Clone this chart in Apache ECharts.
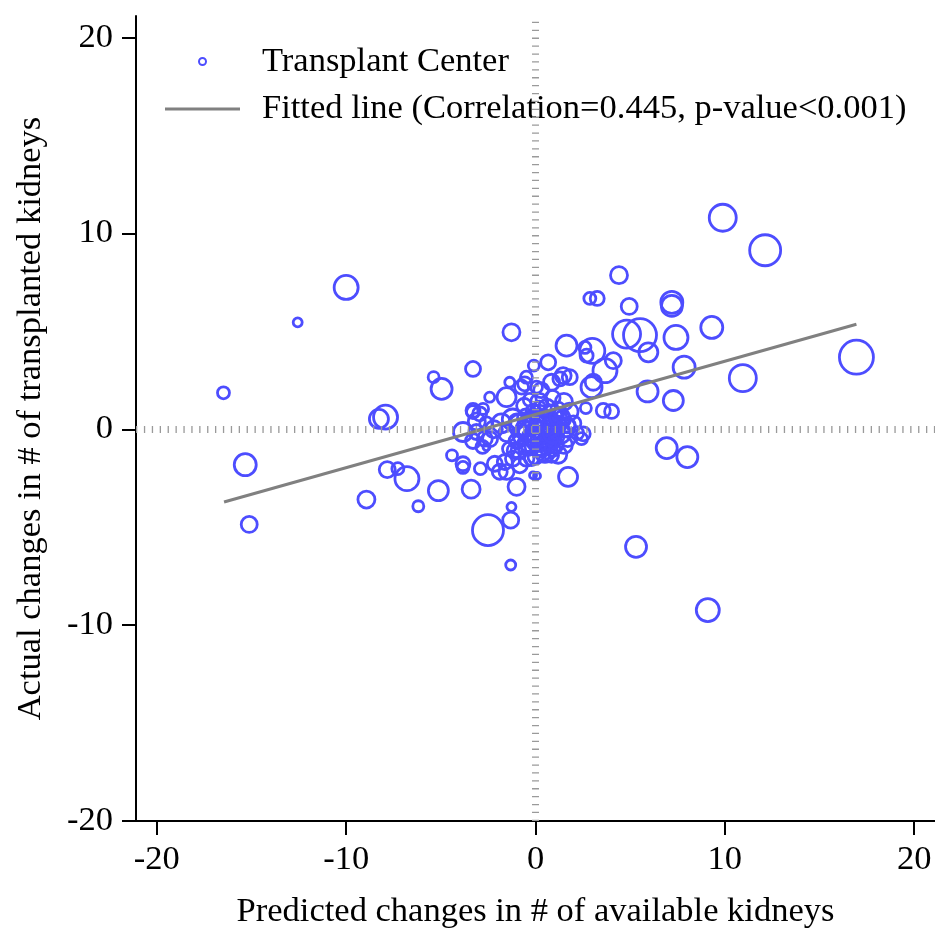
<!DOCTYPE html>
<html><head><meta charset="utf-8">
<script src="https://cdn.jsdelivr.net/npm/echarts@6/dist/echarts.min.js"></script>
<style>html,body{margin:0;padding:0;background:#fff}#c{width:935px;height:934px}</style>
</head><body><div id="c"></div>
<script>
// Transplant centers: predicted change (x), actual change (y), center weight (bubble)
const predicted = [
 -10.0,-12.56,-16.48,-15.33,-15.12,-8.27,-7.92,-5.38,-4.96,-3.30,
 -7.83,-7.27,-6.79,-8.93,-6.19,-5.13,-4.41,-3.83,-3.83,-3.40,
 -2.51,-3.83,-3.30,-2.91,-1.31,-1.27,-1.31,-1.00,-0.13,0.08,
 -2.15,-1.62,-1.53,-1.19,-0.83,-0.48,-1.89,-1.10,-3.12,-2.68,
 -2.59,-1.27,1.64,3.00,2.61,0.67,-0.09,4.95,4.81,5.52,
 5.96,4.11,3.67,3.05,2.96,1.81,1.46,3.58,4.02,2.66,
 -1.53,-2.42,-3.30,-2.77,-0.48,-1.36,-0.57,-0.74,0.05,0.85,
 1.29,1.72,2.52,2.43,4.41,2.87,3.26,7.20,7.20,9.31,
 7.42,7.85,16.95,5.92,7.28,2.70,6.93,8.02,5.31,9.10,
 0.85,-0.21,0.40,9.89,12.13,10.95,-2.95,
 -1.8,-1.5,-1.2,-1.0,-0.8,-0.7,-0.5,-0.4,-0.3,-0.2,
 -0.1,0.0,0.1,0.2,0.3,0.4,0.5,0.6,0.7,0.8,
 0.9,1.0,1.1,1.2,1.3,1.4,1.6,1.7,1.8,2.0,
 -0.6,0.2,-0.9,0.5,1.2,0.0,-0.3,0.9,-2.2,-1.4,
 2.2,1.5,0.3,-0.2,0.6,
 -3.3,-2.8,-2.4,-3.1,-2.6,
 0.1,0.4,0.7,1.0,0.2,0.6,0.9,1.3,-0.3,0.3,
 0.8,1.1,-0.6,0.0,0.5,1.5,-1.0,0.2,0.9,-0.4,
 1.7,1.2
];
const actual = [
 7.24,5.46,1.86,-1.81,-4.86,0.53,0.62,2.66,2.06,3.08,
 -2.06,-2.01,-2.52,-3.59,-3.93,-3.13,-1.33,-1.76,-1.95,-3.06,
 -5.15,-0.14,0.88,-2.01,-4.64,-3.96,-6.93,-2.94,-2.35,-2.38,
 -1.76,-1.67,-2.18,-1.50,-1.84,-1.50,-2.17,-1.08,-0.14,-0.48,
 -0.91,4.95,4.27,4.00,4.18,3.42,3.25,6.27,4.86,4.81,
 3.93,3.50,2.99,2.40,2.15,2.66,2.74,0.96,0.91,1.08,
 1.64,1.64,0.96,1.04,2.66,2.40,2.32,2.15,2.15,2.40,
 2.57,-2.43,-0.23,-0.48,7.87,6.68,6.68,6.48,6.30,5.20,
 4.69,3.17,3.68,1.93,1.47,3.76,-0.96,-1.42,-6.00,-9.23,
 -1.33,-1.50,-1.25,10.80,9.14,2.61,0.79,
 0.3,-0.2,0.5,-0.6,0.2,-0.3,0.6,-0.8,0.1,-0.4,
 0.9,0.3,-0.2,-0.9,0.5,0.0,-0.5,1.1,0.3,-0.3,
 0.7,-0.8,0.2,1.0,-0.2,0.5,0.1,-0.5,0.9,0.3,
 1.2,1.4,-1.1,-1.2,-1.3,-1.4,1.5,1.6,0.0,-1.0,
 -0.2,1.4,2.0,0.6,-0.1,
 -0.6,-0.9,-0.5,0.4,0.3,
 -0.6,-0.3,-0.7,-0.1,0.8,0.4,-1.0,0.6,-0.2,-1.0,
 0.1,-0.4,0.0,-0.5,0.2,-0.8,0.4,1.1,-0.2,-0.7,
 0.2,0.6
];
const weight = [
 25,10,13,23,17,20,25,12,22,16,
 17,13,25,18,12,21,12,15,13,19,
 32,20,14,13,17,10,11,18,8,8,
 16,16,16,16,16,16,16,16,16,16,
 8,18,22,26,13,16,12,17,29,34,
 20,17,25,17,22,16,17,15,15,12,
 20,11,15,12,13,11,15,15,13,17,
 15,20,15,13,18,13,15,23,22,23,
 25,23,35,22,21,14,22,22,22,24,
 15,15,15,28,32,28,15,
 20,18,22,16,24,20,18,22,26,20,
 16,22,24,18,20,26,22,18,24,20,
 22,18,20,16,22,18,20,16,18,16,
 16,18,16,20,18,16,14,16,18,14,
 14,18,16,12,14,
 16,14,16,18,14,
 22,18,20,16,18,22,16,20,24,18,
 20,16,18,20,22,18,16,14,20,18,
 16,18
];
// Fitted regression line endpoints
const fitPredicted = [-16.45, 16.95];
const fitActual = [-3.71, 5.36];
const tickValues = [-20, -10, 0, 10, 20];
const seriesNames = ['Transplant Center', 'Fitted line (Correlation=0.445, p-value<0.001)'];
const xAxisName = 'Predicted changes in # of available kidneys';
const yAxisName = 'Actual changes in # of transplanted kidneys';

const FONT = "'Liberation Serif','Times New Roman',serif";
const FS = 34.5;
const BLUE = '#4d4dff';
const GREY = '#808080';
const points = predicted.map((x, i) => [x, actual[i], weight[i]]);
const fitLine = fitPredicted.map((x, i) => [x, fitActual[i]]);

const axisCommon = {
  type: 'value',
  nameLocation: 'middle',
  nameTextStyle: { fontFamily: FONT, fontSize: FS, color: '#000' },
  axisLine: { show: true, onZero: false, lineStyle: { color: '#000', width: 2 } },
  axisTick: { show: true, length: 14, lineStyle: { color: '#000', width: 2 }, customValues: tickValues },
  axisLabel: { fontFamily: FONT, fontSize: FS, color: '#000', customValues: tickValues },
  splitLine: { show: false }
};

const chart = echarts.init(document.getElementById('c'));
chart.setOption({
  animation: false,
  backgroundColor: '#fff',
  grid: { left: 136, right: 0, top: 16, bottom: 111, containLabel: false },
  xAxis: Object.assign({}, axisCommon, {
    min: -21.1, max: 21.1, name: xAxisName, nameGap: 73,
    axisLabel: Object.assign({}, axisCommon.axisLabel, { margin: 21 })
  }),
  yAxis: Object.assign({}, axisCommon, {
    min: -20, max: 21.1, name: yAxisName, nameGap: 88, nameRotate: 90,
    axisLabel: Object.assign({}, axisCommon.axisLabel, { margin: 23 })
  }),
  legend: {
    orient: 'vertical', left: 165, top: 44, padding: 0,
    itemWidth: 75, itemHeight: 7, itemGap: 12.5,
    textStyle: { fontFamily: FONT, fontSize: FS, color: '#000', padding: [0, 0, 0, 17] },
    data: [
      { name: seriesNames[0], icon: 'circle' },
      { name: seriesNames[1], icon: 'path://M0,0H75V3H0Z', itemStyle: { color: GREY, borderWidth: 0 } }
    ]
  },
  series: [
    {
      name: seriesNames[0], type: 'scatter', data: points, z: 2,
      symbol: 'circle',
      symbolSize: v => Math.max(v[2] - 1, 3),
      itemStyle: { color: 'rgba(255,255,255,0)', borderColor: BLUE, borderWidth: 2.8, opacity: 1 },
      emphasis: { disabled: true },
      markLine: {
        silent: true, symbol: 'none', animation: false,
        label: { show: false },
        lineStyle: { color: '#9a9a9a', width: 7, type: [1.3, 6.6], opacity: 1 },
        emphasis: { disabled: true },
        data: [{ xAxis: 0 }, { yAxis: 0 }]
      }
    },
    {
      name: seriesNames[1], type: 'line', data: fitLine, z: 3,
      symbol: 'none', showSymbol: false,
      lineStyle: { color: GREY, width: 3 },
      itemStyle: { color: GREY },
      emphasis: { disabled: true }
    }
  ]
});
</script></body></html>
